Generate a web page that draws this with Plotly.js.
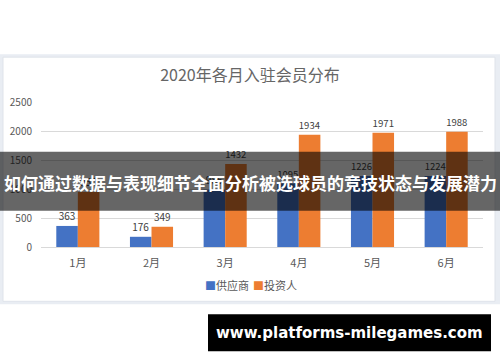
<!DOCTYPE html>
<html>
<head>
<meta charset="utf-8">
<script src="https://cdn.plot.ly/plotly-3.0.1.min.js"></script>
<style>html,body{margin:0;padding:0;background:#fff;}#chart{width:500px;height:362px;}</style>
</head>
<body>
<div id="chart"></div>
<script>
const months = ["1月","2月","3月","4月","5月","6月"];
const supplier = [363, 176, 985, 1095, 1226, 1224];
const investor = [950, 349, 1432, 1934, 1971, 1988];
const seriesNames = ["供应商","投资人"];
const seriesColors = ["#4472c4","#ed7d31"];
const yTicks = [0, 500, 1000, 1500, 2000, 2500];
const chartTitle = "2020年各月入驻会员分布";
const bannerText = "如何通过数据与表现细节全面分析被选球员的竞技状态与发展潜力";
const siteText = "www.platforms-milegames.com";

const W = 500, H = 362;
const M = {l: 41, r: 17, t: 102, b: 114.5};
const pw = W - M.l - M.r, ph = H - M.t - M.b;
const px = x => (x - M.l) / pw;
const py = y => (H - M.b - y) / ph;

const font = '"Noto Sans CJK SC", "Noto Sans", sans-serif';
const gray = '#595959';

const traces = [supplier, investor].map((vals, i) => ({
  type:'bar', name: seriesNames[i], x: months, y: vals, marker:{color: seriesColors[i]},
  text: vals.map(String), textposition:'outside', cliponaxis:false,
  outsidetextfont:{size:10, color:'#404040', family:font}
}));

const legendX = [203, 251];
const legendAnn = seriesNames.map((n, i) => ({
  xref:'paper', yref:'paper', x: px(legendX[i]), y: py(286), xanchor:'left', yanchor:'middle', showarrow:false,
  text: '<span style="color:' + seriesColors[i] + '">■</span>' + n,
  font:{size:11, color:gray, family:font}
}));

const layout = {
  width: W, height: H,
  margin: {l: M.l, r: M.r, t: M.t, b: M.b, pad: 0},
  paper_bgcolor: 'rgba(0,0,0,0)', plot_bgcolor: 'rgba(0,0,0,0)',
  font: {family: font, color: gray, size: 10},
  title: {text: chartTitle, font:{size:16, color: '#666666', family: font}, x: 0.5, xref:'container', xanchor:'center', y: 1 - 75/H, yanchor:'middle'},
  barmode: 'group', bargap: 0.415, bargroupgap: 0,
  xaxis: {type:'category', showgrid:false, showline:false, zeroline:false, ticks:'', tickfont:{size:11, color:gray}, ticklabelstandoff: 8},
  yaxis: {range:[0, 2500], tickvals: yTicks, showgrid:true, gridcolor:'#d9d9d9', gridwidth:1,
          zeroline:true, zerolinecolor:'#d9d9d9', zerolinewidth:1, showline:false, ticks:'',
          tickfont:{size:10, color:gray}, ticklabelstandoff: 8},
  showlegend: false,
  shapes: [
    {type:'rect', xref:'paper', yref:'paper', x0: px(0), x1: px(500), y0: py(54), y1: py(305),
     fillcolor:'#e9edf3', line:{width:0}, layer:'below'},
    {type:'rect', xref:'paper', yref:'paper', x0: px(3), x1: px(495), y0: py(57), y1: py(302),
     fillcolor:'#ffffff', line:{width:1, color:'#dfe3ea'}, layer:'below'},
    {type:'rect', xref:'paper', yref:'paper', x0: px(0), x1: px(500), y0: py(152), y1: py(211),
     fillcolor:'rgba(0,0,0,0.6)', line:{width:0}, layer:'above'},
    {type:'rect', xref:'paper', yref:'paper', x0: px(208), x1: px(491), y0: py(315), y1: py(352),
     fillcolor:'#000000', line:{width:0}, layer:'above'}
  ],
  annotations: legendAnn.concat([
    {xref:'paper', yref:'paper', x: px(250), y: py(183), xanchor:'center', yanchor:'middle', showarrow:false,
     text: '<b>' + bannerText + '</b>', font:{size:17, color:'#ffffff', family:font}},
    {xref:'paper', yref:'paper', x: px(349.5), y: py(333.5), xanchor:'center', yanchor:'middle', showarrow:false,
     text: '<b>' + siteText + '</b>', font:{size:15, color:'#ffffff', family:'"DejaVu Sans", sans-serif'}}
  ])
};

Plotly.newPlot('chart', traces, layout, {displayModeBar:false, staticPlot:true});
</script>
</body>
</html>
